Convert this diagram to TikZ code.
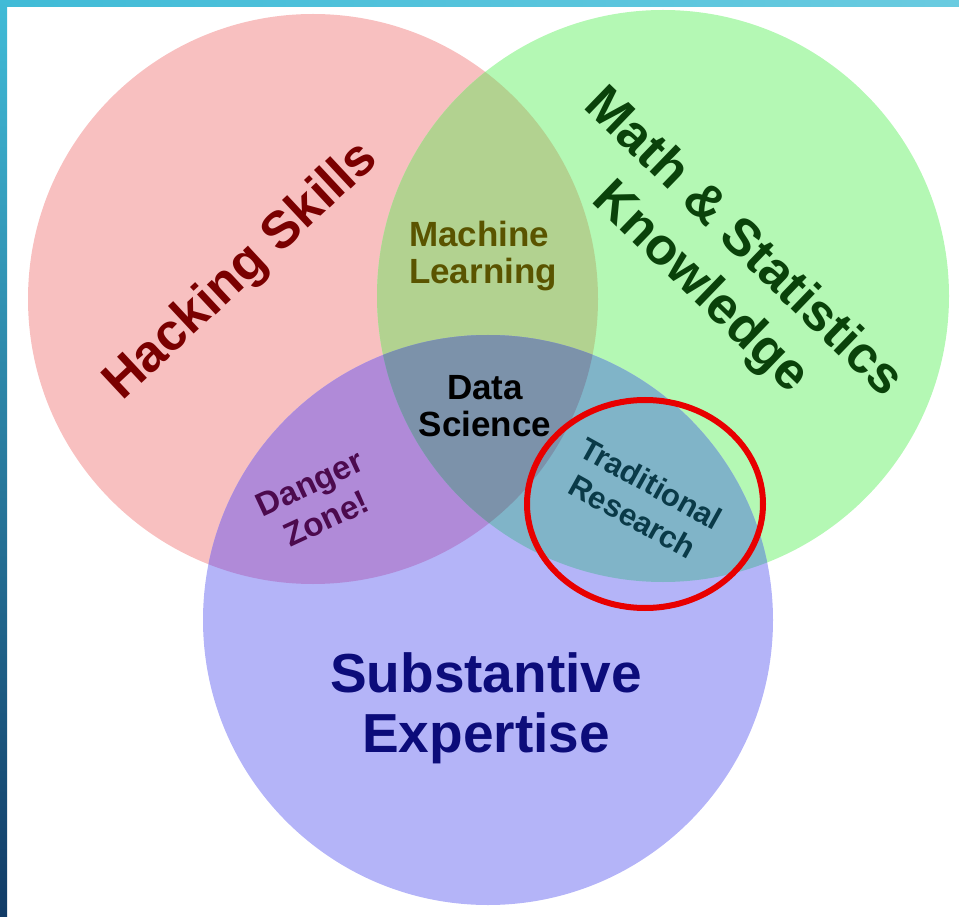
\documentclass[tikz,border=0pt]{standalone}
\usepackage{fontspec}
\setmainfont{Liberation Sans}
\usepackage{xcolor}
\usepackage{tikz}

\definecolor{hackred}{HTML}{F8C0C0}
\definecolor{mathgreen}{HTML}{B4F8B4}
\definecolor{substblue}{HTML}{B4B4F8}
\definecolor{mlolive}{HTML}{B2D290}
\definecolor{dangerpurple}{HTML}{B08AD8}
\definecolor{tradteal}{HTML}{80B4C8}
\definecolor{dscore}{HTML}{7C92AA}
\definecolor{hacktext}{HTML}{7A0000}
\definecolor{mathtext}{HTML}{0A420A}
\definecolor{mltext}{HTML}{5A5400}
\definecolor{dangertext}{HTML}{4C0A4E}
\definecolor{tradtext}{HTML}{0A3A48}
\definecolor{substtext}{HTML}{0C0C7A}
\definecolor{barlight}{HTML}{40BBD7}
\definecolor{barright}{HTML}{6ACBE0}
\definecolor{bardark}{HTML}{113B66}
\definecolor{ringred}{HTML}{E80000}

\def\hackcircle{(313,299) circle (285)}
\def\mathcircle{(663,296) circle (286)}
\def\substcircle{(488,620) circle (285)}

\begin{document}
\begin{tikzpicture}[x=1pt, y=-1pt,
    label/.style={align=center, inner sep=0pt},
    big/.style={font=\fontsize{52}{62}\selectfont\bfseries},
    mid/.style={font=\fontsize{35}{37}\selectfont\bfseries},
    small/.style={font=\fontsize{33}{39}\selectfont\bfseries}]
    \useasboundingbox (0,0) rectangle (959,917);

    % frame bars
    \shade[left color=barlight, right color=barright] (0,0) rectangle (959,7);
    \shade[top color=barlight, bottom color=bardark] (0,0) rectangle (7,917);

    % the three sets
    \fill[hackred] \hackcircle;
    \fill[mathgreen] \mathcircle;
    \fill[substblue] \substcircle;

    % overlaps
    \begin{scope}
        \clip \hackcircle;
        \fill[mlolive] \mathcircle;
        \fill[dangerpurple] \substcircle;
    \end{scope}
    \begin{scope}
        \clip \mathcircle;
        \fill[tradteal] \substcircle;
    \end{scope}
    \begin{scope}
        \clip \hackcircle;
        \clip \mathcircle;
        \fill[dscore] \substcircle;
    \end{scope}

    % set labels
    \node[label, big, text=hacktext, rotate=43] (hack) at (242,272) {Hacking Skills};
    \node[label, big, text=mathtext, rotate=-44] (math) at (721,266) {Math \& Statistics\\Knowledge};
    \node[label, big, text=substtext, font=\fontsize{55}{60}\selectfont\bfseries] (subst) at (486,708) {Substantive\\Expertise};

    % overlap labels
    \node[label, mid, text=mltext, align=left] (ml) at (483,256) {Machine\\Learning};
    \node[label, mid, text=black] (ds) at (485,406) {Data\\Science};
    \node[label, small, text=dangertext, rotate=25] (danger) at (318,501) {Danger\\Zone!};
    \node[label, font=\fontsize{31}{38}\selectfont\bfseries, text=tradtext, rotate=-29] (trad) at (642,500) {Traditional\\Research};

    % highlight
    \draw[ringred, line width=6pt] (645,504) ellipse [x radius=118, y radius=104];
\end{tikzpicture}
\end{document}
